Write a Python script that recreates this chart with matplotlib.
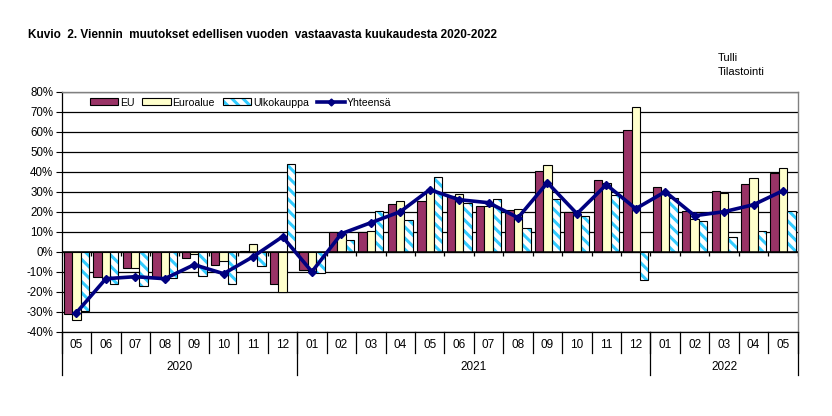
import matplotlib
matplotlib.use("Agg")
import matplotlib.pyplot as plt
import numpy as np
from matplotlib.patches import Patch
from matplotlib.lines import Line2D
from matplotlib.legend_handler import HandlerTuple

plt.rcParams['font.family'] = ['Liberation Sans', 'DejaVu Sans']
plt.rcParams['hatch.linewidth'] = 2.2

months = ['05', '06', '07', '08', '09', '10', '11', '12',
          '01', '02', '03', '04', '05', '06', '07', '08', '09', '10', '11', '12',
          '01', '02', '03', '04', '05']
years = ['2020'] * 8 + ['2021'] * 12 + ['2022'] * 5

eu = [-31, -12.5, -8, -13, -3, -6.5, 0.5, -16,
      -9, 10, 10, 24, 25.5, 28, 23, 21, 40.5, 20, 36, 61,
      32.5, 20.5, 30.5, 34, 39.5]
euroalue = [-34, -13, -8, -13, -1.2, -4.5, 4, -20,
            -10, 9, 10.5, 25.5, 31, 29, 23, 21.5, 43.5, 18.5, 34.5, 72.5,
            29, 16.5, 29.5, 37, 42]
ulkokauppa = [-29.5, -16, -17, -13, -12, -16, -7, 44,
              -10.5, 6, 20.5, 16, 37.5, 24.5, 26.5, 12, 26.5, 18, 28.5, -14,
              27, 15.5, 7.5, 10.5, 20.5]
yhteensa = [-30.5, -13.5, -12.5, -13.5, -6.5, -11, -2.5, 7.5,
            -10, 9, 14.5, 20, 31, 26, 24.5, 17, 34.5, 19, 33.5, 21.5,
            30, 18, 20, 23.5, 30.5]

yticks = list(range(-40, 90, 10))
ytick_labels = [f"{v}%" for v in yticks]

c_eu = '#993366'
c_euro = '#FFFFCC'
c_ulko = '#33CCFF'
c_line = '#000080'

W, H = 832, 416
fig = plt.figure(figsize=(W / 100, H / 100), dpi=100)
ax = fig.add_axes([61.7 / W, 1 - 331.7 / H, (797.7 - 61.7) / W, (331.7 - 91.7) / H])

x = np.arange(len(months))
bw = 0.285
ax.bar(x - bw, eu, bw, color=c_eu, edgecolor='black', linewidth=0.8, zorder=3)
ax.bar(x, euroalue, bw, color=c_euro, edgecolor='black', linewidth=0.8, zorder=3)
ax.bar(x + bw, ulkokauppa, bw, color='white', edgecolor=c_ulko, hatch='\\' * 3,
       linewidth=0, zorder=3)
ax.bar(x + bw, ulkokauppa, bw, color='none', edgecolor='black', linewidth=0.8, zorder=3.1)
ax.plot(x, yhteensa, color=c_line, linewidth=2.6, marker='D', markersize=3.8,
        zorder=5)

ax.set_xlim(-0.5, len(months) - 0.5)
ax.set_ylim(-40, 80)
ax.set_yticks(yticks)
ax.set_yticklabels(ytick_labels, fontsize=8.3)
ax.tick_params(axis='y', direction='out', length=4, width=0.8, pad=2, colors='black')
ax.yaxis.grid(True, color='black', linewidth=0.9, zorder=0)
ax.set_axisbelow(True)
ax.set_xticks([])

for s in ['top', 'right']:
    ax.spines[s].set_color('#808080')
    ax.spines[s].set_linewidth(1.0)
ax.spines['left'].set_color('black')
ax.spines['left'].set_linewidth(0.9)
ax.spines['bottom'].set_color('black')
ax.spines['bottom'].set_linewidth(0.9)

# category axis line at zero with small ticks
ax.axhline(0, color='black', linewidth=1.1, zorder=4)
bounds = np.arange(len(months) + 1) - 0.5
ax.vlines(bounds, -2, 0, color='black', linewidth=0.9, zorder=4)

# month labels and separators below plot
tr = ax.get_xaxis_transform()
axh = 331.7 - 91.7
for i, m in enumerate(months):
    ax.text(i, -(345 - 331.7) / axh, m, transform=tr, ha='center', va='center',
            fontsize=8.5)
for b in bounds:
    ax.add_line(Line2D([b, b], [0, -(353 - 331.7) / axh], transform=tr,
                       color='black', linewidth=0.9, clip_on=False))
# year groups
starts = [0] + [i for i in range(1, len(years)) if years[i] != years[i - 1]]
ends = starts[1:] + [len(years)]
for s, e in zip(starts, ends):
    ax.text((s + e - 1) / 2, -(367.5 - 331.7) / axh, years[s], transform=tr,
            ha='center', va='center', fontsize=8.5)
for b in starts + [len(years)]:
    ax.add_line(Line2D([b - 0.5, b - 0.5], [0, -(375 - 331.7) / axh], transform=tr,
                       color='black', linewidth=0.9, clip_on=False))

# legend
h_eu = Patch(facecolor=c_eu, edgecolor='black', linewidth=0.8)
h_euro = Patch(facecolor=c_euro, edgecolor='black', linewidth=0.8)
h_ulko = (Patch(facecolor='white', edgecolor=c_ulko, hatch='\\' * 3, linewidth=0),
          Patch(facecolor='none', edgecolor='black', linewidth=0.8))
h_line = Line2D([], [], color=c_line, linewidth=2.6, marker='D', markersize=3.5)
ax.legend([h_eu, h_euro, h_ulko, h_line], ['EU', 'Euroalue', 'Ulkokauppa', 'Yhteensä'],
          handler_map={tuple: HandlerTuple(ndivide=1, pad=0)},
          ncol=4, frameon=False, fontsize=7.6, loc='upper left',
          bbox_to_anchor=((84 - 61.7) / 736, 1.0), handlelength=2.7,
          handleheight=0.65, handletextpad=0.15, columnspacing=0.75,
          borderaxespad=0.3, borderpad=0.25)

fig.text(28 / W, 1 - 35 / H, "Kuvio  2. Viennin  muutokset edellisen vuoden  vastaavasta kuukaudesta 2020-2022",
         fontsize=8.5, fontweight='bold', ha='left', va='center')
fig.text(718 / W, 1 - 58 / H, "Tulli", fontsize=8, ha='left', va='center')
fig.text(718 / W, 1 - 72 / H, "Tilastointi", fontsize=8, ha='left', va='center')

fig.savefig('out.png', dpi=100)
